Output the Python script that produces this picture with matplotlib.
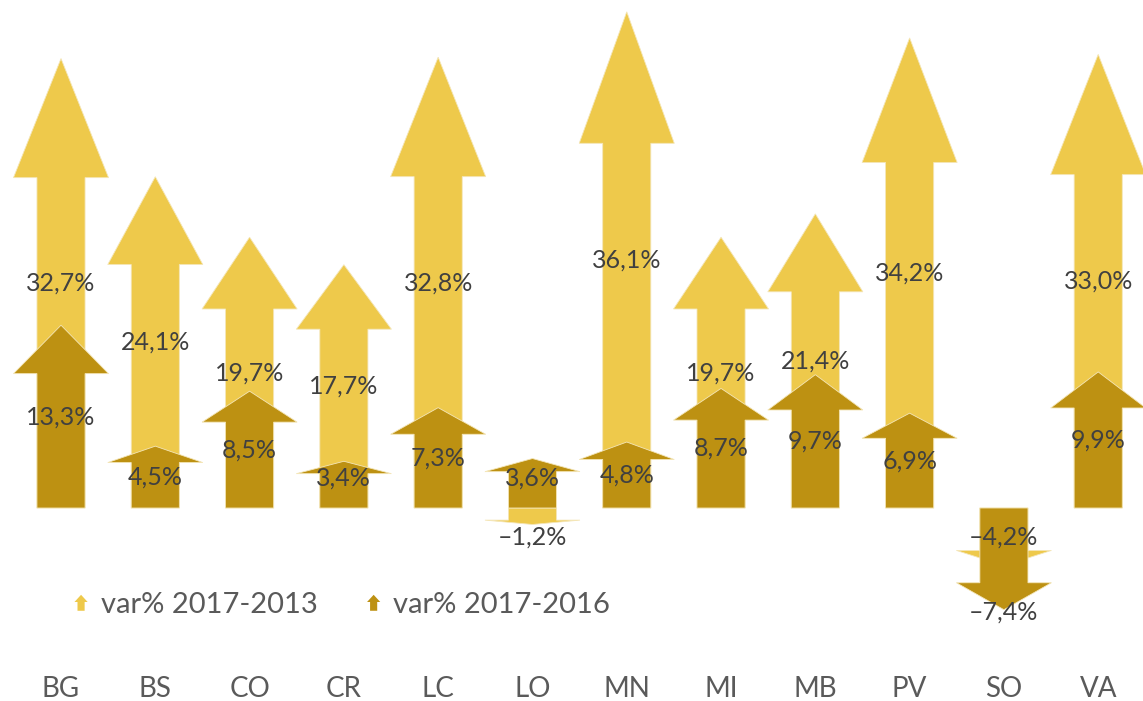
import matplotlib
matplotlib.use('Agg')
import matplotlib.pyplot as plt
from matplotlib.patches import Polygon
from matplotlib.legend_handler import HandlerBase
import numpy as np

categories = ['BG', 'BS', 'CO', 'CR', 'LC', 'LO', 'MN', 'MI', 'MB', 'PV', 'SO', 'VA']
var_2017_2013 = [32.7, 24.1, 19.7, 17.7, 32.8, -1.2, 36.1, 19.7, 21.4, 34.2, -4.2, 33.0]
var_2017_2016 = [13.3, 4.5, 8.5, 3.4, 7.3, 3.6, 4.8, 8.7, 9.7, 6.9, -7.4, 9.9]
series_names = ['var% 2017-2013', 'var% 2017-2016']

LIGHT = '#EEC94B'
DARK = '#BD9112'
SHAFT_HALF = 0.255
HEAD_HALF = 0.504
HEAD_FRAC = 0.265
MIN_LABEL = 2.15

plt.rcParams['font.family'] = ['Lato', 'DejaVu Sans']


def arrow_xy(x, v):
    base = v - HEAD_FRAC * v
    return [(x - SHAFT_HALF, 0), (x - SHAFT_HALF, base), (x - HEAD_HALF, base),
            (x, v), (x + HEAD_HALF, base), (x + SHAFT_HALF, base), (x + SHAFT_HALF, 0)]


def fmt(v):
    return f"{v:.1f}".replace('.', ',').replace('-', '\u2013') + '%'


class ArrowHandler(HandlerBase):
    def create_artists(self, legend, orig_handle, xdescent, ydescent, width, height, fontsize, trans):
        w = 9.5
        h = 11.5
        cx = width / 2 - xdescent
        y0 = height / 2 - ydescent - h / 2
        sh = w * 0.27
        hh = w / 2
        hb = y0 + h * 0.55
        pts = [(cx - sh, y0), (cx - sh, hb), (cx - hh, hb), (cx, y0 + h),
               (cx + hh, hb), (cx + sh, hb), (cx + sh, y0)]
        p = Polygon(pts, closed=True, facecolor=orig_handle.get_facecolor(),
                    edgecolor='none', transform=trans)
        return [p]


fig = plt.figure(figsize=(11.43, 7.01), dpi=100)
ax = fig.add_axes([0, 36 / 701, 1, 665 / 701])
ax.set_xlim(-0.647, 11.475)
ax.set_ylim((508 - 665) / 13.745, 508 / 13.745)
for s in ax.spines.values():
    s.set_visible(False)
ax.set_yticks([])

x = np.arange(len(categories))
handles = []
for series, color, name in [(var_2017_2013, LIGHT, series_names[0]),
                            (var_2017_2016, DARK, series_names[1])]:
    for xi, v in zip(x, series):
        ax.add_patch(Polygon(arrow_xy(xi, v), closed=True, facecolor=color,
                             edgecolor='#F4E6B8', linewidth=0.6))
    handles.append(Polygon([(0, 0)], facecolor=color, label=name))

label_overrides = {(1, 'SO'): lambda v: v - 0.15}
for si, series in enumerate([var_2017_2013, var_2017_2016]):
    for xi, cat, v in zip(x, categories, series):
        if (si, cat) in label_overrides:
            ly = label_overrides[(si, cat)](v)
        else:
            ly = np.sign(v) * max(abs(v) / 2, MIN_LABEL)
        ax.text(xi, ly, fmt(v), ha='center', va='center', fontsize=18,
                color='#404040', zorder=5)

ax.set_xticks(x)
ax.set_xticklabels(categories, fontsize=20, color='#5A5A5A')
ax.tick_params(axis='x', length=0, pad=8)

fig.legend(handles=handles, handler_map={Polygon: ArrowHandler()},
           loc='center left', bbox_to_anchor=(57 / 1143, (701 - 605) / 701),
           ncol=2, frameon=False, borderpad=0, handlelength=0.65,
           handletextpad=0.35, columnspacing=1.6, labelcolor='#5A5A5A',
           prop={'size': 21})

fig.savefig('out.png', dpi=100)
